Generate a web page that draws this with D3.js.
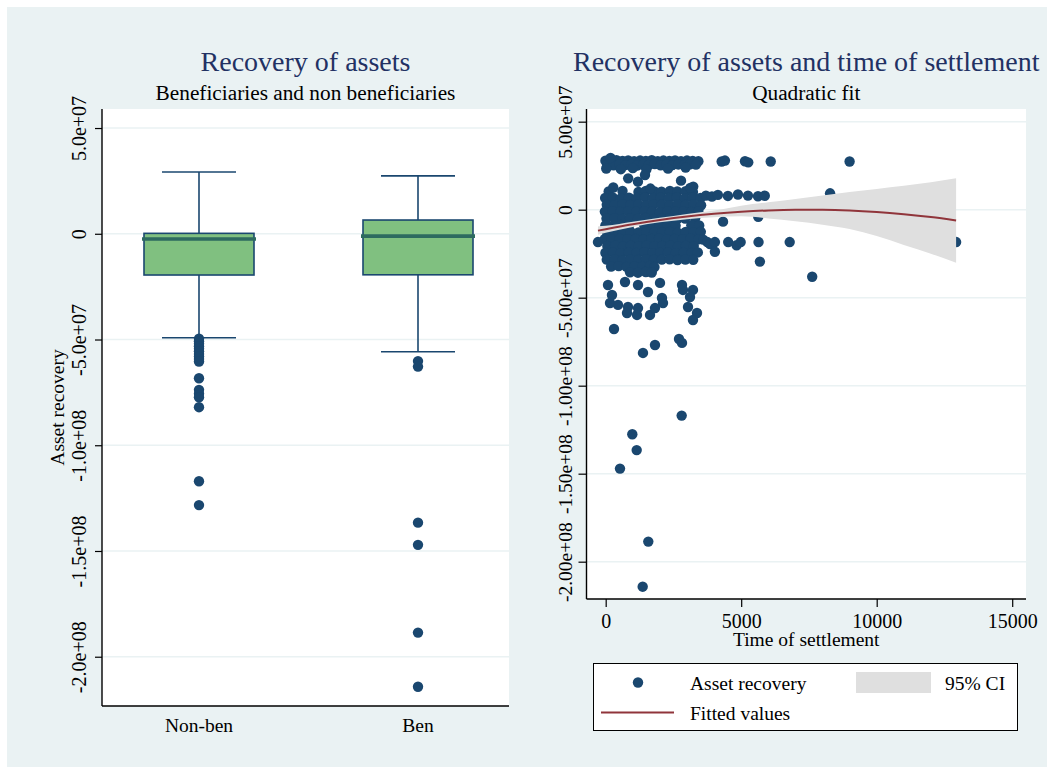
<!DOCTYPE html>
<html>
<head>
<meta charset="utf-8">
<script src="https://cdn.jsdelivr.net/npm/d3@7"></script>
<style>
  body { margin: 0; background: #ffffff; }
  svg { display: block; }
  text { font-family: "Liberation Serif", "Times New Roman", serif; }
</style>
</head>
<body>
<svg id="chart" width="1051" height="771"></svg>
<script>
// ---- values (asset recovery in millions) ----
const M = 1e6;

const groups = ["Non-ben", "Ben"];
const whiskerHigh = [29.2, 27.4];
const upperQuartile = [0.2, 6.5];
const medianVal = [-2.5, -1.1];
const lowerQuartile = [-19.5, -19.4];
const whiskerLow = [-49.2, -55.8];
const outliersNonBen = [-49.6, -50.8, -52.0, -53.2, -54.4, -55.6, -56.8, -58.0, -59.2, -60.4,
  -68.3, -73.8, -75.6, -77.3, -82.0, -117.0, -128.3];
const outliersBen = [-60.2, -62.8, -136.6, -147.1, -188.6, -214.2];

const leftTickVals = [5e7, 0, -5e7, -1e8, -1.5e8, -2e8];
const leftTickLabels = ["5.0e+07", "0", "-5.0e+07", "-1.0e+08", "-1.5e+08", "-2.0e+08"];
const rightTickLabels = ["5.00e+07", "0", "-5.00e+07", "-1.00e+08", "-1.50e+08", "-2.00e+08"];
const xTickVals = [0, 5000, 10000, 15000];

// settlement time (days), recovery (millions)
const topBand = [
  [-10,27.8],[190,27.6],[400,28.1],[620,27.7],[830,28.0],[1050,27.6],[1270,27.9],[1480,27.7],[1700,28.1],
  [1920,27.6],[2130,27.9],[2350,27.7],[2560,28.0],[2780,27.6],[3000,27.9],[3210,27.7],[3420,27.5],
  [60,25.6],[290,25.2],[510,25.8],[730,25.3],[940,25.7],[1160,25.1],[1380,25.6],[1590,25.4],[1810,25.9],
  [2030,25.2],[2240,25.6],[2460,25.3],[2680,25.7],[2900,25.4],[3110,25.8],[3330,25.6],
  [180,29.4],[20,23.4],[560,23.0],[1000,23.6],[1500,22.8],[2300,23.3],[2950,23.9],
  [4280,27.4],[4400,27.9],[5140,27.5],[5260,26.9],[6090,27.4],[9000,27.4],
  [830,17.8],[1190,15.9],[1450,19.7],[2780,16.5],[3230,13.1]
];
const middleBand = [
  [110,10.3],[620,10.6],[1210,10.1],[1480,10.7],[1800,10.4],[2060,10.2],[2370,10.6],[2640,10.3],[2950,10.5],[3220,10.0],
  [280,12.6],[3120,12.4],[1650,12.0],
  [-20,6.7],[260,6.9],[560,6.4],[860,6.8],[1150,6.6],[1450,7.0],[1740,6.5],[2030,6.8],[2330,6.6],[2620,6.9],[2910,6.4],[3210,6.8],[3500,6.7],
  [40,2.8],[330,2.6],[620,3.1],[910,2.7],[1200,2.9],[1490,2.5],[1780,3.0],[2070,2.8],[2360,2.6],[2650,3.0],[2940,2.7],[3230,2.9],[3520,2.5],
  [-30,-1.1],[250,-0.8],[540,-1.3],[830,-1.0],[1130,-1.2],[1420,-0.9],[1710,-1.1],[2000,-1.4],[2290,-0.9],[2580,-1.2],[2870,-1.0],[3160,-1.3],[3420,-0.8],
  [30,-5.0],[320,-4.8],[610,-5.3],[900,-4.9],[1190,-5.1],[1480,-4.7],[1770,-5.2],[2060,-5.0],[2350,-4.8],[2640,-5.3],[2930,-5.0],[3300,-4.9],
  [-10,-8.9],[280,-9.1],[570,-8.7],[860,-9.0],[1420,-8.8],[1710,-9.2],[2000,-8.9],[2290,-8.6],[2580,-9.1],[3160,-8.8],[3450,-9.0]
];
const lowerBand = [
  [50,-12.8],[340,-12.6],[630,-13.1],[920,-12.7],[1210,-12.9],[1500,-12.5],[1790,-13.0],[2080,-12.8],[2370,-12.6],[2660,-13.1],[2950,-12.7],[3240,-12.9],[3510,-12.6],
  [-40,-16.7],[230,-16.9],[520,-16.5],[810,-16.8],[1100,-16.6],[1390,-17.0],[1680,-16.7],[1970,-16.4],[2260,-16.9],[2550,-16.6],[2840,-16.8],[3130,-16.5],[3420,-16.9],
  [60,-20.6],[350,-20.4],[640,-20.9],[930,-20.5],[1220,-20.7],[1510,-20.3],[1800,-20.8],[2090,-20.6],[2380,-20.4],[2670,-20.9],[2960,-20.5],[3250,-20.7],
  [-10,-24.5],[270,-24.3],[560,-24.8],[850,-24.4],[1140,-24.6],[1430,-24.2],[1720,-24.7],[2010,-24.5],[2300,-24.3],[2590,-24.8],[2880,-24.4],[3170,-24.6],[3400,-24.3],
  [40,-28.4],[330,-28.2],[620,-28.7],[910,-28.3],[1200,-28.5],[1490,-28.1],[1780,-28.6],[2070,-28.4],[2360,-28.2],[2650,-28.6],[2940,-28.3],[3230,-28.5],
  [200,-32.3],[480,-32.1],[770,-32.5],[1060,-32.2],[1350,-32.4],[1640,-32.0],[1800,-32.6],
  [900,-35.6],[1190,-35.8],[1480,-35.4],[1700,-35.7]
];
const rightExtra = [
  [3700,8.0],[3920,7.5],[4140,8.4],[4510,7.8],[4880,8.6],[5250,8.0],[5620,7.6],[5870,7.9],[8280,9.3],
  [4330,-6.8],[5630,-4.0],
  [3600,-17.0],[3750,-18.4],[3850,-19.5],[4030,-18.4],[4520,-18.4],[4830,-20.2],[4980,-18.4],[5640,-18.4],
  [6790,-18.4],[12930,-18.4],[-285,-18.4],
  [4030,-23.9],[5690,-29.5],[7620,-38.1]
];
const sparseLow = [
  [85,-42.8],[712,-41.1],[1192,-42.8],[1561,-46.8],[2004,-41.6],[2816,-42.8],[2852,-45.6],[3221,-45.6],
  [3111,-49.6],[2077,-50.2],[232,-48.5],[159,-53.0],[454,-54.1],[823,-55.3],[786,-58.7],[1192,-55.9],
  [1155,-59.8],[1635,-59.8],[1819,-55.9],[2114,-53.0],[3037,-55.3],[3369,-58.7],[3221,-62.7],[307,-67.8],
  [1819,-76.9],[2705,-73.5],[2816,-75.7],[1376,-81.4],
  [2804,-117.0],[982,-127.6],[1144,-136.6],[528,-147.1],[1572,-188.6],[1365,-214.2]
];

// quadratic fit with 95% confidence band
const fitDays   = [-285, 0, 1000, 2000, 3000, 4000, 5000, 6000, 7000, 8000, 9000, 10000, 11000, 12000, 12930];
const fitValues = [-11.9, -11.1, -8.3, -5.9, -3.9, -2.35, -1.2, -0.4, -0.05, -0.1, -0.5, -1.35, -2.6, -4.2, -6.1];
const ciUpper   = [-9.5, -9.1, -6.8, -4.6, -2.4, -0.45, 2.3, 4.2, 6.1, 8.0, 10.0, 11.8, 13.6, 15.6, 17.8];
const ciLower   = [-14.3, -13.1, -9.8, -7.2, -5.4, -4.25, -3.8, -5.0, -6.6, -8.5, -11.0, -15.0, -20.0, -25.0, -30.1];

// ---- styles ----
const BG = "#eaf2f3", GRID = "#eaf2f3", NAVY = "#1a476f", TITLE = "#223163";
const BOXFILL = "#80c080", MEDIAN = "#2d6a5f", FIT = "#90353b", CI = "#dfdfdf";
const SERIF = "'Liberation Serif','Times New Roman',serif";

const svg = d3.select("#chart");
svg.append("rect").attr("x", 7).attr("y", 7).attr("width", 1040).attr("height", 760).attr("fill", BG);

function rotateTickText(axisG, offset, size) {
  axisG.attr("font-family", SERIF).attr("font-size", size);
  axisG.selectAll(".tick text")
    .attr("x", 0).attr("y", 0).attr("dy", null)
    .attr("text-anchor", "middle")
    .attr("fill", "#000")
    .attr("transform", `translate(${-offset},0) rotate(-90)`);
  axisG.selectAll(".tick line").attr("stroke", "#000").attr("stroke-width", 1.2);
}

// ================= Left panel: box plots =================
const L = { x0: 102, x1: 509, y0: 109, y1: 706 };
const yL = d3.scaleLinear().domain([-223.3 * M, 59.0 * M]).range([L.y1, L.y0]);
const xL = d3.scalePoint().domain(groups).range([199, 418]);

svg.append("rect").attr("x", L.x0).attr("y", L.y0).attr("width", L.x1 - L.x0).attr("height", L.y1 - L.y0).attr("fill", "#fff");

svg.append("g").selectAll("line").data(leftTickVals).join("line")
  .attr("x1", L.x0).attr("x2", L.x1)
  .attr("y1", d => yL(d)).attr("y2", d => yL(d))
  .attr("stroke", GRID).attr("stroke-width", 1.5);

const boxW = 110, capW = 74;
groups.forEach((g, i) => {
  const cx = xL(g);
  const gB = svg.append("g");
  gB.append("line").attr("x1", cx).attr("x2", cx)
    .attr("y1", yL(whiskerHigh[i] * M)).attr("y2", yL(upperQuartile[i] * M))
    .attr("stroke", NAVY).attr("stroke-width", 1.6);
  gB.append("line").attr("x1", cx).attr("x2", cx)
    .attr("y1", yL(lowerQuartile[i] * M)).attr("y2", yL(whiskerLow[i] * M))
    .attr("stroke", NAVY).attr("stroke-width", 1.6);
  [whiskerHigh[i], whiskerLow[i]].forEach(v => {
    gB.append("line").attr("x1", cx - capW / 2).attr("x2", cx + capW / 2)
      .attr("y1", yL(v * M)).attr("y2", yL(v * M))
      .attr("stroke", NAVY).attr("stroke-width", 1.6);
  });
  gB.append("rect")
    .attr("x", cx - boxW / 2).attr("width", boxW)
    .attr("y", yL(upperQuartile[i] * M))
    .attr("height", yL(lowerQuartile[i] * M) - yL(upperQuartile[i] * M))
    .attr("fill", BOXFILL).attr("stroke", NAVY).attr("stroke-width", 1.6);
  gB.append("line").attr("x1", cx - boxW / 2 - 2).attr("x2", cx + boxW / 2 + 2)
    .attr("y1", yL(medianVal[i] * M)).attr("y2", yL(medianVal[i] * M))
    .attr("stroke", MEDIAN).attr("stroke-width", 3.6);
});

const boxOutliers = [
  ...outliersNonBen.map(v => ({ g: "Non-ben", v })),
  ...outliersBen.map(v => ({ g: "Ben", v }))
];
svg.append("g").selectAll("circle").data(boxOutliers).join("circle")
  .attr("cx", d => xL(d.g)).attr("cy", d => yL(d.v * M)).attr("r", 5.2)
  .attr("fill", NAVY);

// axes
const axL = svg.append("g").attr("transform", `translate(${L.x0},0)`)
  .call(d3.axisLeft(yL).tickValues(leftTickVals).tickFormat((d, i) => leftTickLabels[i]).tickSize(7).tickSizeOuter(0));
axL.select(".domain").remove();
rotateTickText(axL, 16, 20);
svg.append("line").attr("x1", L.x0).attr("x2", L.x0).attr("y1", L.y0).attr("y2", L.y1).attr("stroke", "#000").attr("stroke-width", 1.4);
svg.append("line").attr("x1", L.x0).attr("x2", L.x1).attr("y1", L.y1).attr("y2", L.y1).attr("stroke", "#000").attr("stroke-width", 1.4);

svg.append("g").selectAll("text").data(groups).join("text")
  .attr("x", d => xL(d)).attr("y", 732).attr("text-anchor", "middle")
  .attr("font-size", 19.5).attr("fill", "#000").text(d => d);

svg.append("text").attr("transform", `translate(64,${(L.y0 + L.y1) / 2}) rotate(-90)`)
  .attr("text-anchor", "middle").attr("font-size", 19.5).attr("fill", "#000").text("Asset recovery");

svg.append("text").attr("x", (L.x0 + L.x1) / 2).attr("y", 71).attr("text-anchor", "middle")
  .attr("font-size", 28).attr("fill", TITLE).text("Recovery of assets");
svg.append("text").attr("x", (L.x0 + L.x1) / 2).attr("y", 100).attr("text-anchor", "middle")
  .attr("font-size", 21.3).attr("fill", "#000").text("Beneficiaries and non beneficiaries");

// ================= Right panel: scatter + quadratic fit =================
const R = { x0: 586.5, x1: 1026, y0: 109, y1: 599 };
const xR = d3.scaleLinear().domain([-708, 15509]).range([R.x0, R.x1]);
const yR = d3.scaleLinear().domain([-221.2 * M, 57.2 * M]).range([R.y1, R.y0]);

svg.append("rect").attr("x", R.x0).attr("y", R.y0).attr("width", R.x1 - R.x0).attr("height", R.y1 - R.y0).attr("fill", "#fff");
svg.append("g").selectAll("line").data(leftTickVals).join("line")
  .attr("x1", R.x0).attr("x2", R.x1)
  .attr("y1", d => yR(d)).attr("y2", d => yR(d))
  .attr("stroke", GRID).attr("stroke-width", 1.5);

const scatterPts = [...topBand, ...middleBand, ...lowerBand, ...rightExtra, ...sparseLow];
svg.append("g").selectAll("circle").data(scatterPts).join("circle")
  .attr("cx", d => xR(d[0])).attr("cy", d => yR(d[1] * M)).attr("r", 5.2)
  .attr("fill", NAVY);

const fitRows = fitDays.map((t, i) => ({ t, f: fitValues[i], lo: ciLower[i], hi: ciUpper[i] }));
svg.append("path").datum(fitRows)
  .attr("d", d3.area().x(d => xR(d.t)).y0(d => yR(d.lo * M)).y1(d => yR(d.hi * M)).curve(d3.curveMonotoneX))
  .attr("fill", CI);
svg.append("path").datum(fitRows)
  .attr("d", d3.line().x(d => xR(d.t)).y(d => yR(d.f * M)).curve(d3.curveMonotoneX))
  .attr("fill", "none").attr("stroke", FIT).attr("stroke-width", 2);

const axRy = svg.append("g").attr("transform", `translate(${R.x0},0)`)
  .call(d3.axisLeft(yR).tickValues(leftTickVals).tickFormat((d, i) => rightTickLabels[i]).tickSize(8).tickSizeOuter(0));
axRy.select(".domain").remove();
rotateTickText(axRy, 15, 19.5);

const axRx = svg.append("g").attr("transform", `translate(0,${R.y1})`)
  .call(d3.axisBottom(xR).tickValues(xTickVals).tickFormat(d3.format("d")).tickSize(8).tickSizeOuter(0));
axRx.select(".domain").remove();
axRx.attr("font-family", SERIF).attr("font-size", 20);
axRx.selectAll(".tick text").attr("y", 0).attr("dy", null)
  .attr("transform", "translate(0,29)").attr("fill", "#000");
axRx.selectAll(".tick line").attr("stroke", "#000").attr("stroke-width", 1.2);

svg.append("line").attr("x1", R.x0).attr("x2", R.x0).attr("y1", R.y0).attr("y2", R.y1).attr("stroke", "#000").attr("stroke-width", 1.4);
svg.append("line").attr("x1", R.x0).attr("x2", R.x1).attr("y1", R.y1).attr("y2", R.y1).attr("stroke", "#000").attr("stroke-width", 1.4);

svg.append("text").attr("x", (R.x0 + R.x1) / 2).attr("y", 646).attr("text-anchor", "middle")
  .attr("font-size", 19.5).attr("fill", "#000").text("Time of settlement");

svg.append("text").attr("x", (R.x0 + R.x1) / 2).attr("y", 71).attr("text-anchor", "middle")
  .attr("font-size", 28).attr("fill", TITLE).text("Recovery of assets and time of settlement");
svg.append("text").attr("x", (R.x0 + R.x1) / 2).attr("y", 100).attr("text-anchor", "middle")
  .attr("font-size", 21.3).attr("fill", "#000").text("Quadratic fit");

// legend
const lg = svg.append("g");
lg.append("rect").attr("x", 593.5).attr("y", 663.5).attr("width", 424).attr("height", 67)
  .attr("fill", "#fff").attr("stroke", "#000").attr("stroke-width", 1);
lg.append("circle").attr("cx", 638).attr("cy", 682.5).attr("r", 5.2).attr("fill", NAVY);
lg.append("text").attr("x", 690).attr("y", 690).attr("font-size", 19.5).attr("fill", "#000").text("Asset recovery");
lg.append("rect").attr("x", 856).attr("y", 672).attr("width", 75).attr("height", 21).attr("fill", CI);
lg.append("text").attr("x", 945).attr("y", 690).attr("font-size", 19.5).attr("fill", "#000").text("95% CI");
lg.append("line").attr("x1", 601).attr("x2", 674).attr("y1", 712.5).attr("y2", 712.5).attr("stroke", FIT).attr("stroke-width", 2);
lg.append("text").attr("x", 690).attr("y", 720).attr("font-size", 19.5).attr("fill", "#000").text("Fitted values");
</script>
</body>
</html>
